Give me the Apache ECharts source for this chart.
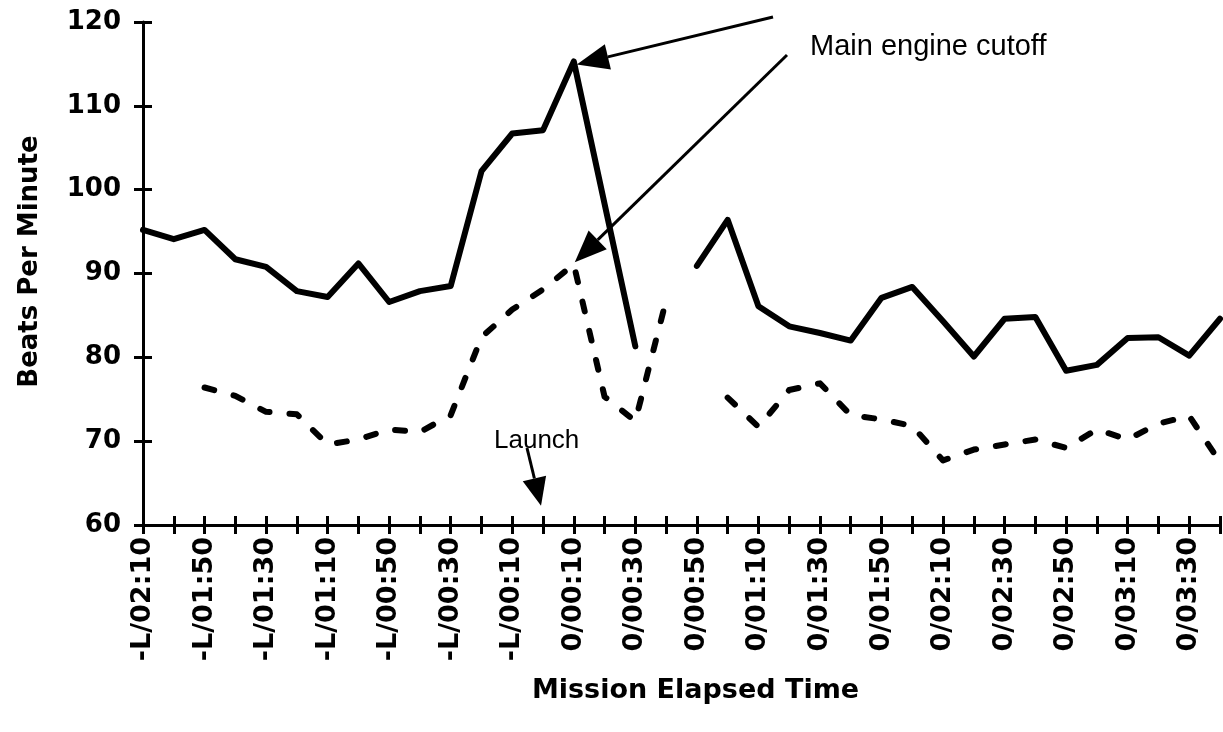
<!DOCTYPE html>
<html>
<head>
<meta charset="utf-8">
<script src="https://cdn.jsdelivr.net/npm/echarts@6/dist/echarts.min.js"></script>
<style>
  html, body { margin: 0; padding: 0; background: #fff; }
  #chart { width: 1223px; height: 732px; }
</style>
</head>
<body>
<div id="chart"></div>
<script>
// Mission elapsed time, 10-second steps from L-2:10 to L+3:40
const categories = [
  '-L/02:10', '-L/02:00', '-L/01:50', '-L/01:40', '-L/01:30', '-L/01:20',
  '-L/01:10', '-L/01:00', '-L/00:50', '-L/00:40', '-L/00:30', '-L/00:20',
  '-L/00:10', '0/00:00', '0/00:10', '0/00:20', '0/00:30', '0/00:40',
  '0/00:50', '0/01:00', '0/01:10', '0/01:20', '0/01:30', '0/01:40',
  '0/01:50', '0/02:00', '0/02:10', '0/02:20', '0/02:30', '0/02:40',
  '0/02:50', '0/03:00', '0/03:10', '0/03:20', '0/03:30', '0/03:40'
];

// Heart rate, crew member drawn with the solid line (beats per minute)
const heartRateSolid = [
  95.2, 94.1, 95.2, 91.7, 90.8, 87.9, 87.2, 91.2, 86.6, 87.9, 88.5,
  102.2, 106.7, 107.1, 115.3, 98.3, 81.3, null,
  90.9, 96.4, 86.1, 83.7, 82.9, 82.0, 87.1, 88.4, 84.3, 80.1,
  84.6, 84.8, 78.4, 79.1, 82.3, 82.4, 80.2, 84.6
];

// Heart rate, crew member drawn with the dashed line (beats per minute)
const heartRateDashed = [
  null, null, 76.4, 75.4, 73.5, 73.2, 69.6, 70.2, 71.4, 71.1, 73.1,
  82.4, 85.7, 88.1, 91.1, 75.3, 72.4, 86.8, null,
  75.2, 71.7, 76.1, 76.9, 73.1, 72.6, 71.8, 67.7, 69.0,
  69.6, 70.2, 69.2, 71.4, 70.2, 72.1, 73.0, 67.5
];

// Value axis range
const yMin = 60;
const yMax = 120;
const yStep = 10;

// Event call-outs: [category, value] each arrow points at
const launchPoint = [categories[13], 62.3];
const mecoLabel = 'Main engine cutoff';
const launchLabel = 'Launch';

const chart = echarts.init(document.getElementById('chart'), null, { renderer: 'canvas' });

const INK = '#000';
const boldFont = { fontFamily: 'DejaVu Sans', fontWeight: 'bold', color: INK };

const option = {
  backgroundColor: '#fff',
  animation: false,
  grid: { left: 143, right: 3, top: 22, bottom: 207, containLabel: false },
  xAxis: [
    {
      type: 'category',
      data: categories,
      boundaryGap: false,
      axisLine: { show: true, lineStyle: { color: INK, width: 3 } },
      axisTick: { show: true, interval: 0, length: 9, lineStyle: { color: INK, width: 3 } },
      axisLabel: Object.assign({ interval: 1, rotate: 90, margin: 12, fontSize: 27 }, boldFont),
      splitLine: { show: false },
      name: 'Mission Elapsed Time',
      nameLocation: 'middle',
      nameGap: 152,
      nameTextStyle: Object.assign({ fontSize: 27, padding: [0, 0, 0, 28] }, boldFont)
    },
    {
      // inner half of the crossing tick marks
      type: 'category',
      data: categories,
      position: 'bottom',
      offset: 0,
      boundaryGap: false,
      axisLine: { show: false },
      axisTick: { show: true, inside: true, interval: 0, length: 9, lineStyle: { color: INK, width: 3 } },
      axisLabel: { show: false },
      splitLine: { show: false }
    }
  ],
  yAxis: [
    {
      type: 'value',
      min: yMin,
      max: yMax,
      interval: yStep,
      axisLine: { show: true, lineStyle: { color: INK, width: 3 } },
      axisTick: { show: true, length: 9, lineStyle: { color: INK, width: 3 } },
      axisLabel: Object.assign({ margin: 22, fontSize: 26 }, boldFont),
      splitLine: { show: false },
      name: 'Beats Per Minute',
      nameLocation: 'middle',
      nameGap: 100,
      nameTextStyle: Object.assign({ fontSize: 26, padding: [0, 0, 0, 24] }, boldFont)
    },
    {
      type: 'value',
      position: 'left',
      offset: 0,
      min: yMin,
      max: yMax,
      interval: yStep,
      axisLine: { show: false },
      axisTick: { show: true, inside: true, length: 9, lineStyle: { color: INK, width: 3 } },
      axisLabel: { show: false },
      splitLine: { show: false }
    }
  ],
  series: [
    {
      type: 'line',
      data: heartRateSolid,
      xAxisIndex: 0,
      yAxisIndex: 0,
      symbol: 'none',
      connectNulls: false,
      lineStyle: { color: INK, width: 6, type: 'solid', join: 'round', cap: 'round' }
    },
    {
      type: 'line',
      data: heartRateDashed,
      xAxisIndex: 0,
      yAxisIndex: 0,
      symbol: 'none',
      connectNulls: false,
      lineStyle: { color: INK, width: 6, type: [10, 20], join: 'round', cap: 'round' }
    }
  ]
};

chart.setOption(option);

// Arrow from a tail point to a tip point, with a filled triangular head
function arrow(tail, tip, headLen, headHalf) {
  const dx = tip[0] - tail[0];
  const dy = tip[1] - tail[1];
  const len = Math.sqrt(dx * dx + dy * dy);
  const ux = dx / len, uy = dy / len;
  const bx = tip[0] - ux * headLen, by = tip[1] - uy * headLen;
  const px = -uy * headHalf, py = ux * headHalf;
  return [
    {
      type: 'line',
      shape: { x1: tail[0], y1: tail[1], x2: bx, y2: by },
      style: { stroke: INK, lineWidth: 3 },
      z: 10
    },
    {
      type: 'polygon',
      shape: { points: [[tip[0], tip[1]], [bx + px, by + py], [bx - px, by - py]] },
      style: { fill: INK },
      z: 10
    }
  ];
}

const toPx = (pt) => chart.convertToPixel({ xAxisIndex: 0, yAxisIndex: 0 }, pt);
const solidPeak = toPx([categories[14], heartRateSolid[14]]);
const dashedPeak = toPx([categories[14], heartRateDashed[14]]);
const launchTip = toPx(launchPoint);

const graphics = []
  .concat(arrow([773, 17], [solidPeak[0] + 3, solidPeak[1] + 3], 32, 13))
  .concat(arrow([787, 55], [dashedPeak[0] + 1, dashedPeak[1] - 2], 32, 13))
  .concat(arrow([527, 448], [launchTip[0] - 2, launchTip[1]], 28, 12));

graphics.push({
  type: 'text',
  x: 810, y: 47,
  style: { text: mecoLabel, font: '29px "Liberation Sans"', fill: INK, textAlign: 'left', textVerticalAlign: 'middle' },
  z: 10
});
graphics.push({
  type: 'text',
  x: 494, y: 441,
  style: { text: launchLabel, font: '26px "Liberation Sans"', fill: INK, textAlign: 'left', textVerticalAlign: 'middle' },
  z: 10
});

chart.setOption({ graphic: graphics });
</script>
</body>
</html>
